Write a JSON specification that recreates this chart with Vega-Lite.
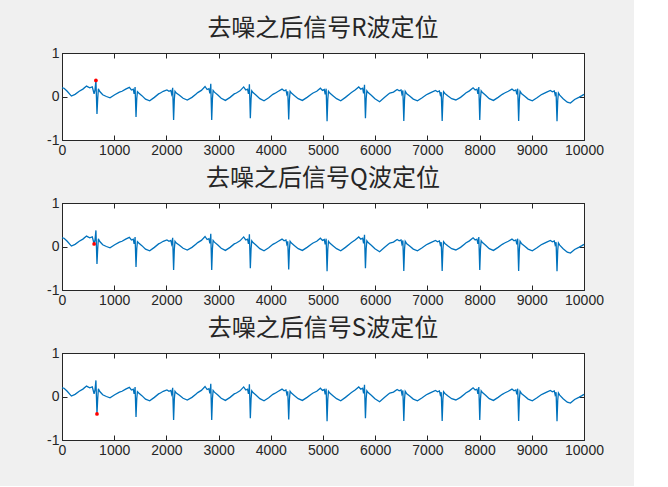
{
  "$schema": "https://vega.github.io/schema/vega-lite/v6.json",
  "background": "#f0f0f0",
  "padding": {"left": 46, "top": 16, "right": 30, "bottom": 28},
  "spacing": 8,
  "datasets": {
    "ecg": [
      {"t": 0, "v": 0.2}, {"t": 40, "v": 0.19}, {"t": 100, "v": 0.12}, {"t": 180, "v": 0.01}, {"t": 250, "v": 0.05},
      {"t": 330, "v": 0.12}, {"t": 400, "v": 0.17}, {"t": 470, "v": 0.24}, {"t": 530, "v": 0.2}, {"t": 580, "v": 0.22},
      {"t": 615, "v": 0.06}, {"t": 632, "v": 0.15}, {"t": 650, "v": 0.37}, {"t": 670, "v": -0.4}, {"t": 684, "v": -0.05},
      {"t": 697, "v": 0.18}, {"t": 720, "v": 0.12}, {"t": 780, "v": 0.04}, {"t": 850, "v": 0.0}, {"t": 920, "v": -0.03},
      {"t": 1010, "v": 0.04}, {"t": 1100, "v": 0.1},
      {"t": 1150, "v": 0.12}, {"t": 1220, "v": 0.17}, {"t": 1290, "v": 0.21}, {"t": 1330, "v": 0.15}, {"t": 1365, "v": 0.17},
      {"t": 1382, "v": 0.06}, {"t": 1392, "v": 0.1}, {"t": 1400, "v": 0.22}, {"t": 1418, "v": -0.47}, {"t": 1432, "v": -0.05},
      {"t": 1445, "v": 0.11}, {"t": 1470, "v": 0.08}, {"t": 1530, "v": 0.02}, {"t": 1600, "v": -0.06}, {"t": 1680, "v": -0.1},
      {"t": 1770, "v": -0.02}, {"t": 1850, "v": 0.06},
      {"t": 1870, "v": 0.07}, {"t": 1940, "v": 0.12}, {"t": 2010, "v": 0.15}, {"t": 2050, "v": 0.12}, {"t": 2085, "v": 0.14},
      {"t": 2102, "v": 0.05}, {"t": 2112, "v": 0.09}, {"t": 2120, "v": 0.2}, {"t": 2138, "v": -0.54}, {"t": 2152, "v": -0.06},
      {"t": 2165, "v": 0.12}, {"t": 2190, "v": 0.08}, {"t": 2250, "v": 0.03}, {"t": 2320, "v": -0.04}, {"t": 2400, "v": -0.08},
      {"t": 2490, "v": -0.02}, {"t": 2570, "v": 0.06},
      {"t": 2600, "v": 0.09}, {"t": 2670, "v": 0.14}, {"t": 2740, "v": 0.23}, {"t": 2780, "v": 0.16}, {"t": 2815, "v": 0.18},
      {"t": 2832, "v": 0.07}, {"t": 2842, "v": 0.12}, {"t": 2850, "v": 0.29}, {"t": 2868, "v": -0.54}, {"t": 2882, "v": -0.05},
      {"t": 2895, "v": 0.14}, {"t": 2920, "v": 0.1}, {"t": 2980, "v": 0.04}, {"t": 3050, "v": -0.04}, {"t": 3130, "v": -0.09},
      {"t": 3220, "v": -0.02}, {"t": 3300, "v": 0.06},
      {"t": 3340, "v": 0.08}, {"t": 3410, "v": 0.13}, {"t": 3480, "v": 0.22}, {"t": 3520, "v": 0.15}, {"t": 3555, "v": 0.17},
      {"t": 3572, "v": 0.06}, {"t": 3582, "v": 0.11}, {"t": 3590, "v": 0.28}, {"t": 3608, "v": -0.5}, {"t": 3622, "v": -0.05},
      {"t": 3635, "v": 0.13}, {"t": 3660, "v": 0.09}, {"t": 3720, "v": 0.03}, {"t": 3790, "v": -0.05}, {"t": 3870, "v": -0.1},
      {"t": 3960, "v": -0.03}, {"t": 4040, "v": 0.05},
      {"t": 4075, "v": 0.07}, {"t": 4145, "v": 0.12}, {"t": 4215, "v": 0.17}, {"t": 4255, "v": 0.13}, {"t": 4290, "v": 0.15},
      {"t": 4307, "v": 0.05}, {"t": 4317, "v": 0.08}, {"t": 4325, "v": 0.12}, {"t": 4343, "v": -0.53}, {"t": 4357, "v": -0.06},
      {"t": 4370, "v": 0.12}, {"t": 4395, "v": 0.08}, {"t": 4455, "v": 0.02}, {"t": 4525, "v": -0.05}, {"t": 4605, "v": -0.09},
      {"t": 4695, "v": -0.02}, {"t": 4775, "v": 0.05},
      {"t": 4810, "v": 0.08}, {"t": 4880, "v": 0.12}, {"t": 4950, "v": 0.19}, {"t": 4990, "v": 0.14}, {"t": 5025, "v": 0.16},
      {"t": 5042, "v": 0.05}, {"t": 5052, "v": 0.09}, {"t": 5060, "v": 0.18}, {"t": 5078, "v": -0.57}, {"t": 5092, "v": -0.06},
      {"t": 5105, "v": 0.12}, {"t": 5130, "v": 0.08}, {"t": 5190, "v": 0.02}, {"t": 5260, "v": -0.05}, {"t": 5340, "v": -0.1},
      {"t": 5430, "v": -0.02}, {"t": 5510, "v": 0.06},
      {"t": 5545, "v": 0.09}, {"t": 5615, "v": 0.15}, {"t": 5685, "v": 0.22}, {"t": 5725, "v": 0.17}, {"t": 5760, "v": 0.19},
      {"t": 5777, "v": 0.07}, {"t": 5787, "v": 0.12}, {"t": 5795, "v": 0.27}, {"t": 5813, "v": -0.5}, {"t": 5827, "v": -0.05},
      {"t": 5840, "v": 0.13}, {"t": 5865, "v": 0.09}, {"t": 5925, "v": 0.03}, {"t": 5995, "v": -0.05}, {"t": 6085, "v": -0.12},
      {"t": 6170, "v": -0.03}, {"t": 6250, "v": 0.05},
      {"t": 6280, "v": 0.08}, {"t": 6350, "v": 0.1}, {"t": 6420, "v": 0.16}, {"t": 6460, "v": 0.13}, {"t": 6495, "v": 0.15},
      {"t": 6512, "v": 0.05}, {"t": 6522, "v": 0.08}, {"t": 6530, "v": 0.14}, {"t": 6548, "v": -0.56}, {"t": 6562, "v": -0.06},
      {"t": 6575, "v": 0.12}, {"t": 6600, "v": 0.07}, {"t": 6660, "v": 0.01}, {"t": 6730, "v": -0.06}, {"t": 6810, "v": -0.1},
      {"t": 6900, "v": -0.03}, {"t": 6980, "v": 0.04},
      {"t": 7015, "v": 0.06}, {"t": 7085, "v": 0.1}, {"t": 7155, "v": 0.14}, {"t": 7195, "v": 0.11}, {"t": 7230, "v": 0.13},
      {"t": 7247, "v": 0.04}, {"t": 7257, "v": 0.07}, {"t": 7265, "v": 0.1}, {"t": 7283, "v": -0.56}, {"t": 7297, "v": -0.06},
      {"t": 7310, "v": 0.11}, {"t": 7335, "v": 0.07}, {"t": 7395, "v": 0.01}, {"t": 7465, "v": -0.05}, {"t": 7545, "v": -0.08},
      {"t": 7635, "v": -0.02}, {"t": 7715, "v": 0.06},
      {"t": 7735, "v": 0.08}, {"t": 7805, "v": 0.13}, {"t": 7875, "v": 0.2}, {"t": 7915, "v": 0.15}, {"t": 7950, "v": 0.17},
      {"t": 7967, "v": 0.06}, {"t": 7977, "v": 0.1}, {"t": 7985, "v": 0.22}, {"t": 8003, "v": -0.54}, {"t": 8017, "v": -0.05},
      {"t": 8030, "v": 0.13}, {"t": 8055, "v": 0.09}, {"t": 8115, "v": 0.03}, {"t": 8185, "v": -0.05}, {"t": 8265, "v": -0.09},
      {"t": 8355, "v": -0.02}, {"t": 8435, "v": 0.05},
      {"t": 8480, "v": 0.08}, {"t": 8550, "v": 0.12}, {"t": 8620, "v": 0.17}, {"t": 8660, "v": 0.13}, {"t": 8695, "v": 0.15},
      {"t": 8712, "v": 0.05}, {"t": 8722, "v": 0.09}, {"t": 8730, "v": 0.18}, {"t": 8748, "v": -0.56}, {"t": 8762, "v": -0.06},
      {"t": 8775, "v": 0.12}, {"t": 8800, "v": 0.07}, {"t": 8860, "v": 0.01}, {"t": 8930, "v": -0.06}, {"t": 9010, "v": -0.1},
      {"t": 9100, "v": -0.03}, {"t": 9180, "v": 0.04},
      {"t": 9215, "v": 0.06}, {"t": 9285, "v": 0.1}, {"t": 9355, "v": 0.14}, {"t": 9395, "v": 0.11}, {"t": 9430, "v": 0.13},
      {"t": 9447, "v": 0.04}, {"t": 9457, "v": 0.07}, {"t": 9465, "v": 0.1}, {"t": 9483, "v": -0.57}, {"t": 9497, "v": -0.08},
      {"t": 9510, "v": 0.08}, {"t": 9535, "v": 0.03}, {"t": 9600, "v": -0.05}, {"t": 9680, "v": -0.13}, {"t": 9740, "v": -0.15},
      {"t": 9820, "v": -0.07}, {"t": 9900, "v": -0.02}, {"t": 9960, "v": 0.02}, {"t": 10000, "v": 0.05}
    ]
  },
  "vconcat": [
    {
      "width": 522,
      "height": 87,
      "title": "去噪之后信号R波定位",
      "layer": [
        {
          "data": {"name": "ecg"},
          "mark": {"type": "line", "color": "#0072BD", "strokeWidth": 1.3},
          "encoding": {
            "x": {"field": "t", "type": "quantitative", "title": null, "scale": {"domain": [0, 10000], "nice": false},
                  "axis": {"orient": "bottom", "format": "d", "values": [0, 1000, 2000, 3000, 4000, 5000, 6000, 7000, 8000, 9000, 10000]}},
            "y": {"field": "v", "type": "quantitative", "title": null, "scale": {"domain": [-1, 1], "nice": false},
                  "axis": {"orient": "left", "format": ".0f", "labelExpr": "replace(datum.label, '\u2212', '-')", "values": [-1, 0, 1]}}
          }
        },
        {
          "data": {"values": [{"t": 650, "v": 0.37}]},
          "mark": {"type": "point", "filled": true, "color": "#ff0000", "size": 14, "opacity": 1},
          "encoding": {
            "x": {"field": "t", "type": "quantitative", "title": null,
                  "axis": {"orient": "top", "labels": false, "values": [0, 1000, 2000, 3000, 4000, 5000, 6000, 7000, 8000, 9000, 10000]}},
            "y": {"field": "v", "type": "quantitative", "title": null,
                  "axis": {"orient": "right", "labels": false, "values": [-1, 0, 1]}}
          }
        }
      ],
      "resolve": {"axis": {"x": "independent", "y": "independent"}}
    },
    {
      "width": 522,
      "height": 87,
      "title": "去噪之后信号Q波定位",
      "layer": [
        {
          "data": {"name": "ecg"},
          "mark": {"type": "line", "color": "#0072BD", "strokeWidth": 1.3},
          "encoding": {
            "x": {"field": "t", "type": "quantitative", "title": null, "scale": {"domain": [0, 10000], "nice": false},
                  "axis": {"orient": "bottom", "format": "d", "values": [0, 1000, 2000, 3000, 4000, 5000, 6000, 7000, 8000, 9000, 10000]}},
            "y": {"field": "v", "type": "quantitative", "title": null, "scale": {"domain": [-1, 1], "nice": false},
                  "axis": {"orient": "left", "format": ".0f", "labelExpr": "replace(datum.label, '\u2212', '-')", "values": [-1, 0, 1]}}
          }
        },
        {
          "data": {"values": [{"t": 615, "v": 0.06}]},
          "mark": {"type": "point", "filled": true, "color": "#ff0000", "size": 14, "opacity": 1},
          "encoding": {
            "x": {"field": "t", "type": "quantitative", "title": null,
                  "axis": {"orient": "top", "labels": false, "values": [0, 1000, 2000, 3000, 4000, 5000, 6000, 7000, 8000, 9000, 10000]}},
            "y": {"field": "v", "type": "quantitative", "title": null,
                  "axis": {"orient": "right", "labels": false, "values": [-1, 0, 1]}}
          }
        }
      ],
      "resolve": {"axis": {"x": "independent", "y": "independent"}}
    },
    {
      "width": 522,
      "height": 87,
      "title": "去噪之后信号S波定位",
      "layer": [
        {
          "data": {"name": "ecg"},
          "mark": {"type": "line", "color": "#0072BD", "strokeWidth": 1.3},
          "encoding": {
            "x": {"field": "t", "type": "quantitative", "title": null, "scale": {"domain": [0, 10000], "nice": false},
                  "axis": {"orient": "bottom", "format": "d", "values": [0, 1000, 2000, 3000, 4000, 5000, 6000, 7000, 8000, 9000, 10000]}},
            "y": {"field": "v", "type": "quantitative", "title": null, "scale": {"domain": [-1, 1], "nice": false},
                  "axis": {"orient": "left", "format": ".0f", "labelExpr": "replace(datum.label, '\u2212', '-')", "values": [-1, 0, 1]}}
          }
        },
        {
          "data": {"values": [{"t": 670, "v": -0.4}]},
          "mark": {"type": "point", "filled": true, "color": "#ff0000", "size": 14, "opacity": 1},
          "encoding": {
            "x": {"field": "t", "type": "quantitative", "title": null,
                  "axis": {"orient": "top", "labels": false, "values": [0, 1000, 2000, 3000, 4000, 5000, 6000, 7000, 8000, 9000, 10000]}},
            "y": {"field": "v", "type": "quantitative", "title": null,
                  "axis": {"orient": "right", "labels": false, "values": [-1, 0, 1]}}
          }
        }
      ],
      "resolve": {"axis": {"x": "independent", "y": "independent"}}
    }
  ],
  "config": {
    "view": {"fill": "white", "stroke": "#262626", "strokeWidth": 1},
    "axis": {
      "grid": false,
      "domainColor": "#262626",
      "tickColor": "#262626",
      "labelColor": "#262626",
      "labelFont": "Liberation Sans",
      "labelFontSize": 14,
      "tickSize": -5,
      "labelPadding": 8,
      "labelFlush": false,
      "labelOverlap": false
    },
    "title": {
      "font": "Noto Sans CJK SC",
      "fontSize": 24,
      "fontWeight": "normal",
      "color": "#262626",
      "offset": 5
    }
  }
}
